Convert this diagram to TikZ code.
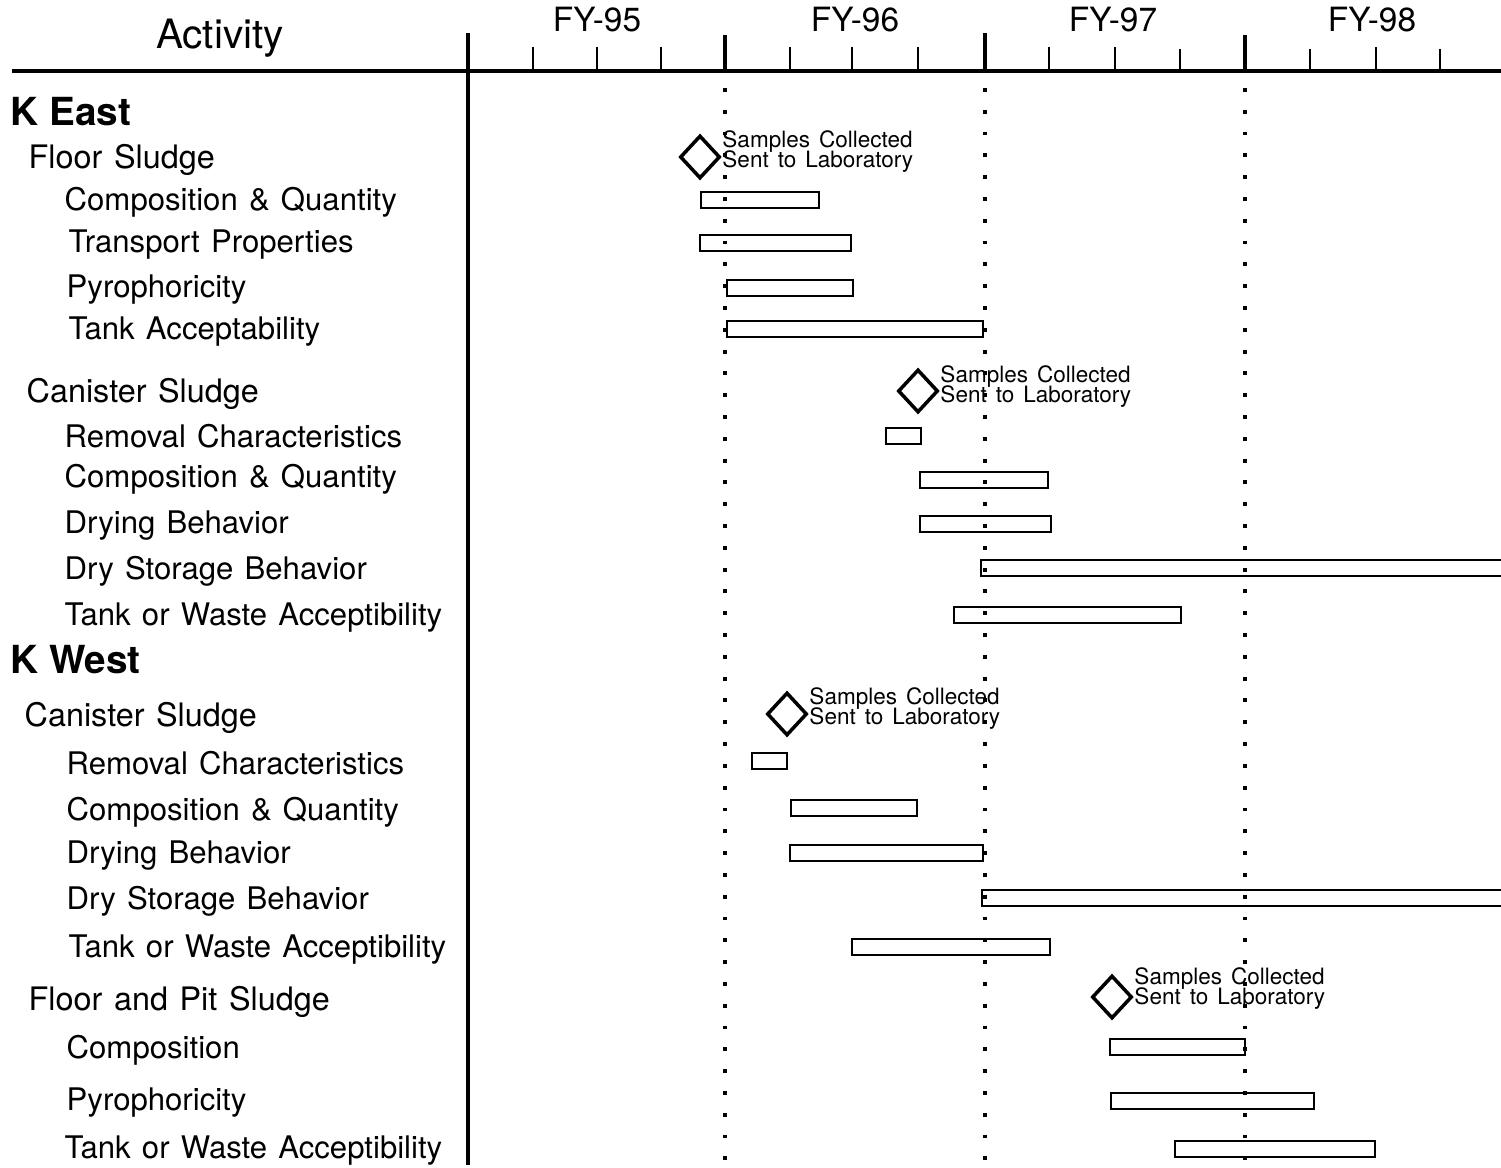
\documentclass[tikz,border=0pt]{standalone}
\usepackage{fontspec}
\setmainfont{TeX Gyre Heros}
\usetikzlibrary{shapes.geometric,positioning}
\newcommand\lblfont[1]{\fontsize{#1}{10}\selectfont\spaceskip 0.36em\relax}
\newcommand\notefont{\fontsize{6.4}{5.7}\selectfont\lineskiplimit -10pt\relax\spaceskip 0.4em\relax}
\begin{document}
\begin{tikzpicture}[x=0.01cm, y=-0.01cm,
	lbl/.style={anchor=west, inner sep=0pt, font=\lblfont{8.85}},
	grp/.style={anchor=west, inner sep=0pt, font=\lblfont{9.2}},
	site/.style={anchor=west, inner sep=0pt, font=\fontsize{11}{12}\selectfont\bfseries},
	yr/.style={inner sep=0pt, font=\fontsize{9.5}{10}\selectfont},
	mile/.style={diamond, draw, line width=1pt, minimum width=0.4cm, minimum height=0.43cm, inner sep=0pt},
	note/.style={anchor=west, inner sep=0pt, align=left, font=\notefont},
	bar/.style={draw, line width=0.8pt},
	fy/.style={line width=0.9pt, dash pattern=on 1.1pt off 5.1pt}]
	\useasboundingbox (0,0) rectangle (1501,1167);
	% axes
	\draw[line width=0.9pt] (12,71) -- (1501,71);
	\draw[line width=0.9pt] (468,33) -- (468,1165);
	\node[yr] (hAct) at (220,38) {\fontsize{11.5}{12}\selectfont Activity};
	\node[yr] (y95) at (597,20) {FY-95};
	\node[yr] (y96) at (855,20) {FY-96};
	\node[yr] (y97) at (1113,20) {FY-97};
	\node[yr] (y98) at (1372,20) {FY-98};
	\draw[line width=0.9pt] (725,35) -- (725,71);
	\draw[line width=0.9pt] (985,33) -- (985,71);
	\draw[line width=0.9pt] (1245,35) -- (1245,71);
	\draw[line width=0.8pt] (533,47) -- (533,71);
	\draw[line width=0.8pt] (597,47) -- (597,71);
	\draw[line width=0.8pt] (661,47) -- (661,71);
	\draw[line width=0.8pt] (790,47) -- (790,71);
	\draw[line width=0.8pt] (852,47) -- (852,71);
	\draw[line width=0.8pt] (918,47) -- (918,71);
	\draw[line width=0.8pt] (1049,47) -- (1049,71);
	\draw[line width=0.8pt] (1115,47) -- (1115,71);
	\draw[line width=0.8pt] (1180,49) -- (1180,71);
	\draw[line width=0.8pt] (1310,49) -- (1310,71);
	\draw[line width=0.8pt] (1376,47) -- (1376,71);
	\draw[line width=0.8pt] (1440,49) -- (1440,71);
	\draw[fy] (725,88) -- (725,1165);
	\draw[fy] (985,88) -- (985,1165);
	\draw[fy] (1245,88) -- (1245,1165);
	% K East
	\node[site] (kEast) at (10,112) {K East};
	\node[grp] (keFloor) at (28,160) {Floor Sludge};
	\node[lbl] (keComp) at (64,202) {Composition \& Quantity};
	\node[lbl] (keTrans) at (68,245) {Transport Properties};
	\node[lbl] (kePyro) at (66,290) {Pyrophoricity};
	\node[lbl] (keTank) at (68,332) {Tank Acceptability};
	\node[grp] (keCan) at (26,394) {Canister Sludge};
	\node[lbl] (keRem) at (64,436) {Removal Characteristics};
	\node[lbl] (keCComp) at (64,479) {Composition \& Quantity};
	\node[lbl] (keDry) at (64,526) {Drying Behavior};
	\node[lbl] (keStor) at (64,571) {Dry Storage Behavior};
	\node[lbl] (keWaste) at (64,618) {Tank or Waste Acceptibility};
	% K West
	\node[site] (kWest) at (10,660) {K West};
	\node[grp] (kwCan) at (24,718) {Canister Sludge};
	\node[lbl] (kwRem) at (66,763) {Removal Characteristics};
	\node[lbl] (kwComp) at (66,812) {Composition \& Quantity};
	\node[lbl] (kwDry) at (66,856) {Drying Behavior};
	\node[lbl] (kwStor) at (66,901) {Dry Storage Behavior};
	\node[lbl] (kwWaste) at (68,950) {Tank or Waste Acceptibility};
	\node[grp] (kwFloor) at (28,1002) {Floor and Pit Sludge};
	\node[lbl] (kwFComp) at (66,1050) {Composition};
	\node[lbl] (kwPyro) at (66,1103) {Pyrophoricity};
	\node[lbl] (kwTank) at (64,1151) {Tank or Waste Acceptibility};
	% milestones
	\node[mile] (mKEf) at (700,157) {};
	\node[note, right=0pt of mKEf, yshift=1.6pt] (nKEf) {Samples Collected\\Sent to Laboratory};
	\node[mile] (mKEc) at (918,391) {};
	\node[note, right=0pt of mKEc, yshift=1.2pt] (nKEc) {Samples Collected\\Sent to Laboratory};
	\node[mile] (mKWc) at (787,714) {};
	\node[note, right=0pt of mKWc, yshift=1.6pt] (nKWc) {Samples Collected\\Sent to Laboratory};
	\node[mile] (mKWf) at (1112,997) {};
	\node[note, right=0pt of mKWf, yshift=2.5pt] (nKWf) {Samples Collected\\Sent to Laboratory};
	% bars
	\draw[bar] (701,192) rectangle (819,208);
	\draw[bar] (700,235) rectangle (851,251);
	\draw[bar] (727,280) rectangle (853,296);
	\draw[bar] (727,321) rectangle (983,337);
	\draw[bar] (886,428) rectangle (921,444);
	\draw[bar] (920,472) rectangle (1048,488);
	\draw[bar] (920,516) rectangle (1051,532);
	\draw[bar] (981,560) rectangle (1510,576);
	\draw[bar] (954,607) rectangle (1181,623);
	\draw[bar] (752,753) rectangle (787,769);
	\draw[bar] (791,800) rectangle (917,816);
	\draw[bar] (790,845) rectangle (983,861);
	\draw[bar] (982,890) rectangle (1510,906);
	\draw[bar] (852,939) rectangle (1050,955);
	\draw[bar] (1110,1039) rectangle (1245,1055);
	\draw[bar] (1111,1093) rectangle (1314,1109);
	\draw[bar] (1175,1141) rectangle (1375,1157);
\end{tikzpicture}
\end{document}
